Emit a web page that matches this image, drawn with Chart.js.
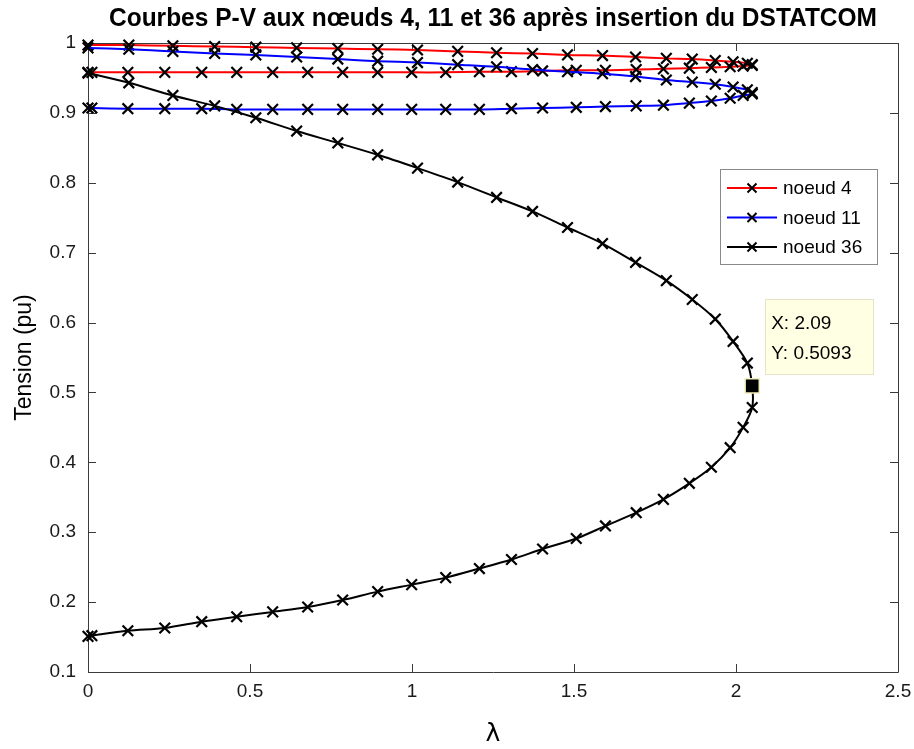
<!DOCTYPE html>
<html>
<head>
<meta charset="utf-8">
<script src="https://cdn.jsdelivr.net/npm/chart.js@4.4.1/dist/chart.umd.min.js"></script>
<style>
  html, body { margin: 0; padding: 0; background: #ffffff; }
  #wrap { width: 914px; height: 749px; }
</style>
</head>
<body>
<div id="wrap"><canvas id="c" width="914" height="749"></canvas></div>
<script>
// ---- data ----
const titleText = "Courbes P-V aux nœuds 4, 11 et 36 après insertion du DSTATCOM";
const xAxisTitle = "λ";
const yAxisTitle = "Tension (pu)";
const seriesNames = ["noeud 4", "noeud 11", "noeud 36"];
const seriesColors = ["#ff0000", "#0000ff", "#000000"];

const xTicks = [0, 0.5, 1, 1.5, 2, 2.5];
const yTicks = [0.1, 0.2, 0.3, 0.4, 0.5, 0.6, 0.7, 0.8, 0.9, 1];

// load parameter, upper branch (from 0 to the nose) and lower branch (nose back to 0)
const lambdaUpper = [0, 0.126, 0.262, 0.391, 0.518, 0.644, 0.771, 0.894, 1.017, 1.141, 1.261,
  1.372, 1.480, 1.588, 1.690, 1.785, 1.865, 1.936, 1.991, 2.035, 2.050];
const lambdaLower = [2.050, 2.022, 1.982, 1.924, 1.856, 1.776, 1.692, 1.597, 1.507, 1.403, 1.307,
  1.208, 1.104, 0.999, 0.894, 0.786, 0.678, 0.570, 0.459, 0.351, 0.237, 0.123, 0.012, 0];

const v4Upper = [0.997, 0.997, 0.996, 0.995, 0.994, 0.993, 0.992, 0.991, 0.990, 0.988, 0.986,
  0.985, 0.983, 0.982, 0.980, 0.978, 0.977, 0.975, 0.973, 0.971, 0.969];
const v4Lower = [0.968, 0.967, 0.966, 0.965, 0.964, 0.963, 0.962, 0.961, 0.961, 0.960, 0.959,
  0.959, 0.958, 0.958, 0.958, 0.958, 0.958, 0.958, 0.958, 0.958, 0.958, 0.958, 0.958, 0.958];

const v11Upper = [0.993, 0.991, 0.988, 0.985, 0.983, 0.980, 0.977, 0.974, 0.972, 0.969, 0.966,
  0.962, 0.959, 0.956, 0.952, 0.947, 0.944, 0.941, 0.937, 0.933, 0.929];
const v11Lower = [0.927, 0.925, 0.921, 0.917, 0.914, 0.911, 0.910, 0.909, 0.908, 0.907, 0.906,
  0.905, 0.905, 0.905, 0.905, 0.905, 0.905, 0.905, 0.905, 0.906, 0.906, 0.906, 0.907, 0.907];

const v36Upper = [0.957, 0.943, 0.925, 0.910, 0.893, 0.874, 0.857, 0.840, 0.821, 0.801, 0.779,
  0.759, 0.736, 0.713, 0.686, 0.660, 0.633, 0.605, 0.573, 0.542, 0.5093];
const v36Lower = [0.4785, 0.450, 0.421, 0.393, 0.370, 0.347, 0.328, 0.309, 0.291, 0.276, 0.261,
  0.248, 0.235, 0.225, 0.215, 0.203, 0.193, 0.186, 0.179, 0.172, 0.163, 0.159, 0.152, 0.151];

// data tip on the nose of node 36
const tipLambda = [2.050];
const tipValue = [0.5093];
const tipLabels = ["X: 2.09", "Y: 0.5093"];

// ---- build datasets ----
function curve(up, low) {
  const pts = [];
  lambdaUpper.forEach((l, i) => pts.push({ x: l, y: up[i] }));
  lambdaLower.forEach((l, i) => pts.push({ x: l, y: low[i] }));
  return pts;
}
const curves = [curve(v4Upper, v4Lower), curve(v11Upper, v11Lower), curve(v36Upper, v36Lower)];

const FONT = "'Liberation Sans', Arial, Helvetica, sans-serif";
const NARROW = "'Liberation Sans Narrow', 'Arial Narrow', 'Liberation Sans', Arial, sans-serif";
const AXIS_COLOR = "#3a3a3a";

const datasets = curves.map((pts, i) => ({
  label: seriesNames[i],
  data: pts,
  borderColor: seriesColors[i],
  backgroundColor: seriesColors[i],
  borderWidth: 2,
  tension: 0.3,
  pointStyle: 'crossRot',
  pointRadius: 7.5,
  pointBorderColor: '#000000',
  pointBorderWidth: 2.2,
  pointBackgroundColor: '#000000',
  clip: false,
  order: 3 - i
}));
datasets.push({
  label: 'datatip',
  data: tipLambda.map((l, i) => ({ x: l, y: tipValue[i] })),
  showLine: false,
  pointStyle: 'rect',
  pointRadius: 10,
  pointBackgroundColor: '#000000',
  pointBorderColor: '#f3eec0',
  pointBorderWidth: 1.5,
  clip: false,
  order: 0
});

function fmt(v) { return String(Number(v.toFixed(3))); }

const framePlugin = {
  id: 'matlabFrame',
  beforeDatasetsDraw(chart) {
    const { ctx, chartArea: a, scales: { x, y } } = chart;
    ctx.save();
    ctx.strokeStyle = AXIS_COLOR;
    ctx.lineWidth = 1;
    ctx.beginPath();
    ctx.rect(Math.round(a.left) + 0.5, Math.round(a.top) + 0.5,
      Math.round(a.right - a.left), Math.round(a.bottom - a.top));
    ctx.stroke();
    const tl = 8;
    ctx.beginPath();
    xTicks.forEach(t => {
      const px = Math.round(x.getPixelForValue(t)) + 0.5;
      ctx.moveTo(px, a.bottom); ctx.lineTo(px, a.bottom - tl);
      ctx.moveTo(px, a.top); ctx.lineTo(px, a.top + tl);
    });
    yTicks.forEach(t => {
      const py = Math.round(y.getPixelForValue(t)) + 0.5;
      ctx.moveTo(a.left, py); ctx.lineTo(a.left + tl, py);
      ctx.moveTo(a.right, py); ctx.lineTo(a.right - tl, py);
    });
    ctx.stroke();
    ctx.restore();
  },
  afterDraw(chart) {
    const { ctx, chartArea: a, scales: { x, y } } = chart;
    ctx.save();
    // title
    ctx.fillStyle = '#000';
    ctx.textAlign = 'center';
    ctx.textBaseline = 'middle';
    ctx.font = "bold 26px " + NARROW;
    const cx = (a.left + a.right) / 2;
    const w = ctx.measureText(titleText).width;
    const target = 768;
    ctx.save();
    ctx.translate(cx, 19);
    ctx.scale(target / w, 1);
    ctx.fillText(titleText, 0, 0);
    ctx.restore();
    // axis titles
    ctx.font = "23px " + FONT;
    ctx.save();
    ctx.translate(25, (a.top + a.bottom) / 2);
    ctx.rotate(-Math.PI / 2);
    ctx.fillText(yAxisTitle, 0, 0);
    ctx.restore();
    ctx.font = "25px 'DejaVu Sans', " + FONT;
    ctx.fillText(xAxisTitle, cx, 734);

    // legend
    const lx = a.right - 178, ly = a.top + 126, lw = 157, lh = 95;
    ctx.fillStyle = '#ffffff';
    ctx.fillRect(lx, ly, lw, lh);
    ctx.strokeStyle = '#8a8a8a';
    ctx.lineWidth = 1;
    ctx.strokeRect(Math.round(lx) + 0.5, Math.round(ly) + 0.5, lw, lh);
    ctx.font = "19px " + FONT;
    ctx.textAlign = 'left';
    seriesNames.forEach((name, i) => {
      const ry = ly + 19 + i * 29.5;
      ctx.strokeStyle = seriesColors[i];
      ctx.lineWidth = 2;
      ctx.beginPath(); ctx.moveTo(lx + 7, ry); ctx.lineTo(lx + 57, ry); ctx.stroke();
      const mx = lx + 32, r = 4.5;
      ctx.strokeStyle = '#000';
      ctx.beginPath();
      ctx.moveTo(mx - r, ry - r); ctx.lineTo(mx + r, ry + r);
      ctx.moveTo(mx - r, ry + r); ctx.lineTo(mx + r, ry - r);
      ctx.stroke();
      ctx.fillStyle = '#000';
      ctx.fillText(name, lx + 63, ry + 1);
    });

    // data tip box
    const px = x.getPixelForValue(tipLambda[0]);
    const py = y.getPixelForValue(tipValue[0]);
    const bx = px + 13, by = py - 87, bw = 108, bh = 75;
    ctx.fillStyle = '#ffffe3';
    ctx.fillRect(bx, by, bw, bh);
    ctx.strokeStyle = '#e6e3c8';
    ctx.lineWidth = 1;
    ctx.strokeRect(Math.round(bx) + 0.5, Math.round(by) + 0.5, bw, bh);
    ctx.fillStyle = '#000';
    ctx.font = "19px " + FONT;
    ctx.fillText(tipLabels[0], bx + 6, by + 25);
    ctx.fillText(tipLabels[1], bx + 6, by + 55);
    ctx.restore();
  }
};

new Chart(document.getElementById('c'), {
  type: 'line',
  data: { datasets },
  plugins: [framePlugin],
  options: {
    responsive: false,
    animation: false,
    events: [],
    layout: { padding: { top: 43, right: 16, left: 0, bottom: 0 } },
    plugins: { legend: { display: false }, tooltip: { enabled: false }, title: { display: false } },
    scales: {
      x: {
        type: 'linear', min: 0, max: 2.5,
        afterBuildTicks: s => { s.ticks = xTicks.map(v => ({ value: v })); },
        ticks: { callback: v => fmt(v), color: '#1a1a1a', font: { family: FONT, size: 19 }, padding: 8, maxRotation: 0 },
        grid: { display: false, drawTicks: false },
        border: { display: false },
        afterFit: s => { s.height = 77; s.paddingLeft = 0; s.paddingRight = 0; }
      },
      y: {
        type: 'linear', min: 0.1, max: 1,
        afterBuildTicks: s => { s.ticks = yTicks.map(v => ({ value: v })); },
        ticks: { callback: v => fmt(v), color: '#1a1a1a', font: { family: FONT, size: 19 }, padding: 12 },
        grid: { display: false, drawTicks: false },
        border: { display: false },
        afterFit: s => { s.width = 88; s.paddingTop = 0; s.paddingBottom = 0; }
      }
    }
  }
});
</script>
</body>
</html>
